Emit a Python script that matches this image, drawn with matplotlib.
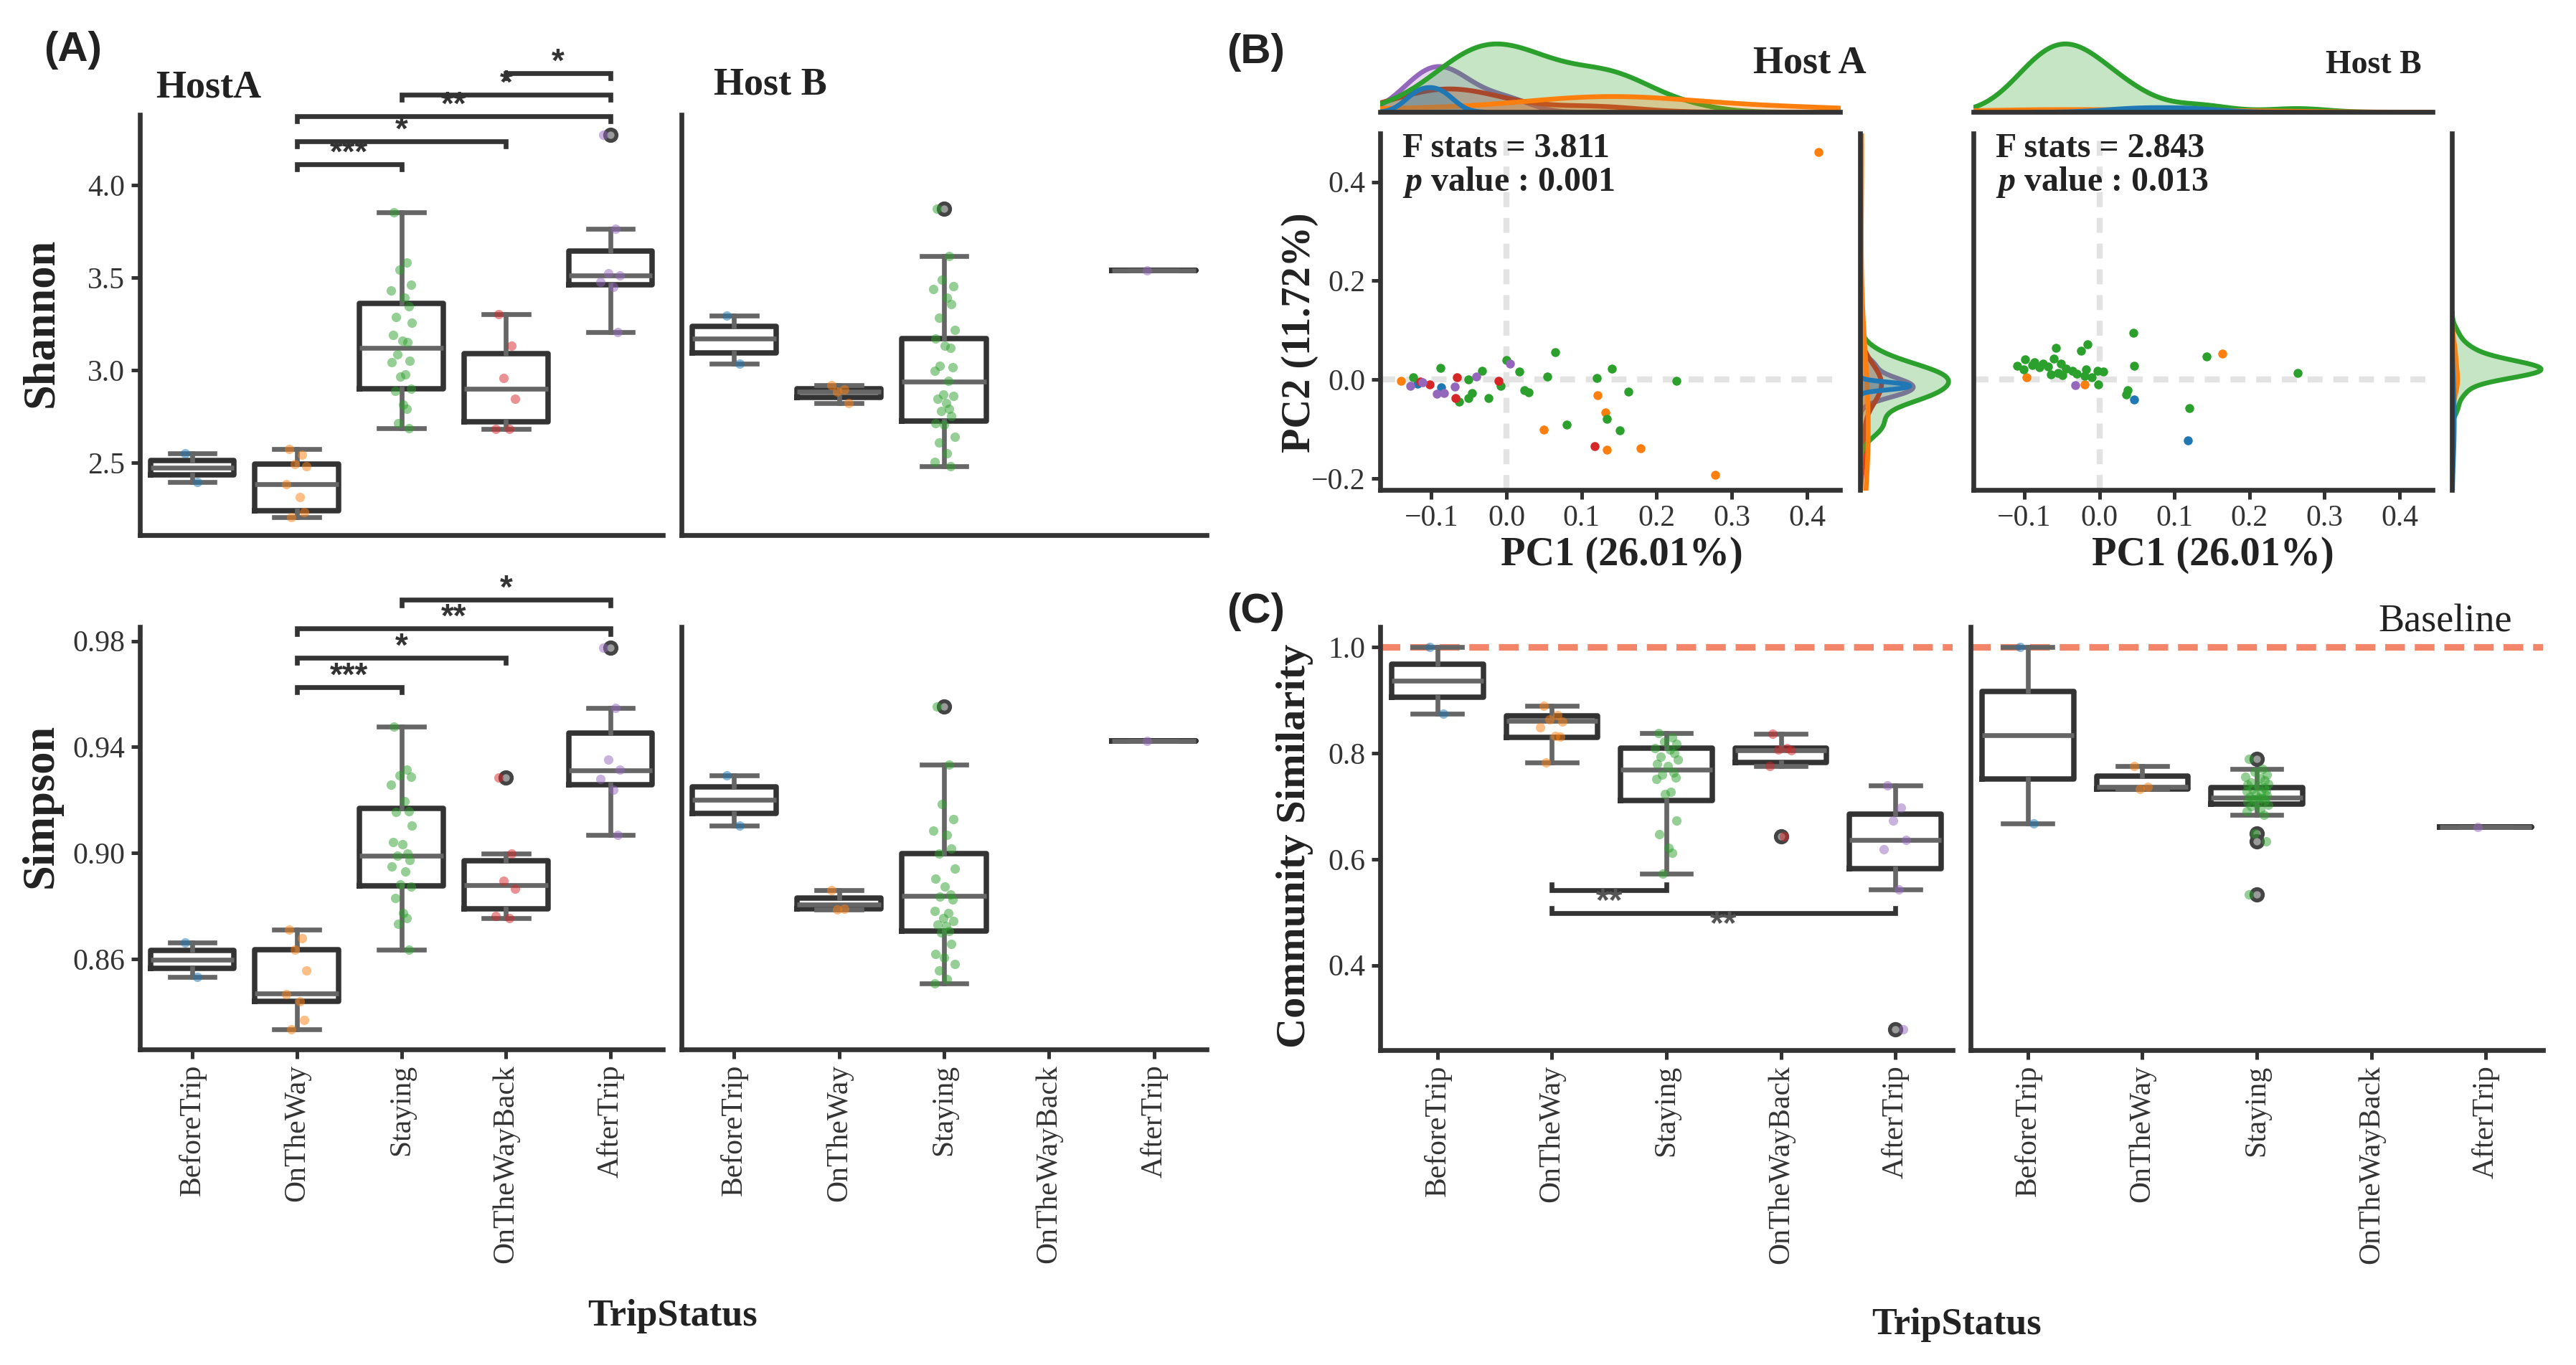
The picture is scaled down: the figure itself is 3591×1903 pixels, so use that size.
import numpy as np
import pandas as pd
import matplotlib
matplotlib.use('Agg')
import matplotlib.pyplot as plt
import seaborn as sns
import warnings

warnings.filterwarnings('ignore')

plt.rcParams['font.family'] = ['Liberation Serif', 'DejaVu Serif']
plt.rcParams['mathtext.fontset'] = 'custom'
plt.rcParams['mathtext.it'] = 'Liberation Serif:italic:bold'
plt.rcParams['mathtext.rm'] = 'Liberation Serif:bold'

W, H = 3591, 1903
cats = ['BeforeTrip', 'OnTheWay', 'Staying', 'OnTheWayBack', 'AfterTrip']
colors = ['#1f77b4', '#ff7f0e', '#2ca02c', '#d62728', '#9467bd']

# ---------------- (A) Shannon ----------------
shannon_hostA_pts = [
    [2.551, 2.397],
    [2.575, 2.542, 2.494, 2.480, 2.384, 2.316, 2.233, 2.205],
    [3.852, 3.583, 3.541, 3.462, 3.429, 3.390, 3.346, 3.288, 3.255, 3.192, 3.159, 3.153,
     3.086, 3.049, 3.043, 2.979, 2.966, 2.899, 2.889, 2.816, 2.793, 2.715, 2.686],
    [3.303, 3.134, 2.957, 2.845, 2.681, 2.684],
    [4.271, 3.762, 3.525, 3.510, 3.477, 3.448, 3.207],
]
shannon_hostA_box = [(2.436, 2.474, 2.513), (2.240, 2.386, 2.494), (2.900, 3.120, 3.360),
                     (2.720, 2.900, 3.090), (3.460, 3.510, 3.645)]
shannon_hostB_pts = [
    [3.296, 3.037],
    [2.918, 2.895, 2.883, 2.821],
    [3.872, 3.616, 3.490, 3.452, 3.438, 3.390, 3.355, 3.284, 3.217, 3.169, 3.134, 3.120,
     3.024, 3.014, 2.995, 2.941, 2.870, 2.860, 2.845, 2.821, 2.793, 2.779, 2.754, 2.715,
     2.706, 2.638, 2.609, 2.552, 2.503, 2.482],
    [],
    [3.54],
]
shannon_hostB_box = [(3.095, 3.170, 3.235), (2.855, 2.885, 2.900), (2.725, 2.940, 3.170),
                     None, (3.54, 3.54, 3.54)]
shannon_sig = [(1, 2, 4.112, '***'), (1, 3, 4.236, '*'), (1, 4, 4.372, '**'),
               (2, 4, 4.488, '*'), (3, 4, 4.605, '*')]

# ---------------- (A) Simpson ----------------
simpson_hostA_pts = [
    [0.8662, 0.8533],
    [0.8712, 0.8679, 0.8635, 0.8558, 0.8468, 0.8440, 0.8371, 0.8335],
    [0.9476, 0.9315, 0.9294, 0.9287, 0.9259, 0.9197, 0.9158, 0.9156, 0.9104, 0.9042, 0.9034,
     0.8997, 0.8989, 0.8973, 0.8949, 0.8930, 0.8883, 0.8874, 0.8831, 0.8775, 0.8756, 0.8734,
     0.8637],
    [0.9286, 0.8997, 0.8895, 0.8865, 0.8762, 0.8756],
    [0.9774, 0.9548, 0.9352, 0.9315, 0.9280, 0.9238, 0.9069],
]
simpson_hostA_box = [(0.8566, 0.8598, 0.8633), (0.8440, 0.8470, 0.8636), (0.8876, 0.8990, 0.9168),
                     (0.8790, 0.8880, 0.8972), (0.9258, 0.9312, 0.9452)]
simpson_hostB_pts = [
    [0.9293, 0.9104],
    [0.8860, 0.8791, 0.8787],
    [0.9554, 0.9333, 0.9184, 0.9129, 0.9085, 0.9069, 0.9017, 0.8998, 0.8942, 0.8905, 0.8874,
     0.8843, 0.8837, 0.8824, 0.8781, 0.8775, 0.8756, 0.8744, 0.8731, 0.8725, 0.8706, 0.8700,
     0.8657, 0.8620, 0.8607, 0.8582, 0.8558, 0.8526, 0.8510],
    [],
    [0.9424],
]
simpson_hostB_box = [(0.9150, 0.9200, 0.9249), (0.8791, 0.8806, 0.8831), (0.8706, 0.8840, 0.8998),
                     None, (0.9424, 0.9424, 0.9424)]
simpson_sig = [(1, 2, 0.9626, '***'), (1, 3, 0.9738, '*'), (1, 4, 0.9847, '**'), (2, 4, 0.9955, '*')]

# ---------------- (B) PCoA ----------------
pc1_hostA = [-0.118, -0.087,
             0.415, -0.140, 0.121, 0.050, 0.134, 0.179, 0.278, 0.132,
             -0.088, -0.124, -0.032, -0.051, -0.046, -0.051, -0.024, 0.017, 0.030, 0.024, 0.054,
             0.065, 0.120, 0.140, 0.162, 0.226, 0.080, 0.134, 0.151, -0.063, 0.000, -0.008,
             -0.102, -0.066, -0.068, -0.010, 0.117, -0.115,
             -0.128, -0.112, -0.093, -0.083, -0.069, -0.040, 0.005]
pc2_hostA = [-0.008, -0.016,
             0.461, -0.002, -0.031, -0.101, -0.142, -0.139, -0.192, -0.067,
             0.023, 0.005, 0.018, 0.000, -0.027, -0.038, -0.038, 0.017, -0.025, -0.021, 0.006,
             0.056, 0.004, 0.022, -0.024, -0.002, -0.091, -0.080, -0.103, -0.044, 0.039, -0.012,
             -0.010, 0.005, -0.038, -0.002, -0.135, -0.004,
             -0.012, -0.006, -0.029, -0.027, -0.014, 0.006, 0.032]
grp_hostA = ['BeforeTrip'] * 2 + ['OnTheWay'] * 8 + ['Staying'] * 22 + ['OnTheWayBack'] * 6 + ['AfterTrip'] * 7

pc1_hostB = [0.046, 0.118,
             0.164, -0.097, -0.020,
             0.045, 0.046, 0.143, 0.264, 0.120, 0.036, 0.038, -0.002, -0.003, 0.005, -0.018,
             -0.020, -0.036, -0.016, -0.025, -0.058, -0.061, -0.051, -0.069, -0.055, -0.049,
             -0.087, -0.099, -0.110, -0.101, -0.075, -0.080, -0.065, -0.045, -0.030, -0.090, -0.010,
             -0.032]
pc2_hostB = [-0.040, -0.123,
             0.053, 0.005, -0.010,
             0.094, 0.028, 0.047, 0.014, -0.057, -0.030, -0.021, -0.010, 0.018, 0.017, 0.020,
             0.007, 0.018, 0.071, 0.058, 0.064, 0.043, 0.033, 0.026, 0.014, 0.009,
             0.035, 0.041, 0.028, 0.020, 0.033, 0.025, 0.010, 0.022, 0.012, 0.030, 0.005,
             -0.011]
grp_hostB = ['BeforeTrip'] * 2 + ['OnTheWay'] * 3 + ['Staying'] * 32 + ['AfterTrip'] * 1

# ---------------- (C) Community similarity ----------------
sim_hostA_pts = [
    [1.000, 0.874],
    [0.889, 0.872, 0.863, 0.859, 0.848, 0.833, 0.831, 0.782],
    [0.8377, 0.8299, 0.821, 0.8178, 0.8088, 0.807, 0.800, 0.7937, 0.7877, 0.780, 0.7757,
     0.7635, 0.759, 0.7545, 0.7515, 0.7274, 0.7226, 0.6731, 0.6477, 0.6218, 0.6115, 0.5723],
    [0.836, 0.8088, 0.807, 0.805, 0.7757, 0.643],
    [0.7395, 0.6972, 0.6731, 0.6357, 0.6188, 0.5434, 0.2797],
]
sim_hostA_box = [(0.9053, 0.9366, 0.9674), (0.8299, 0.8612, 0.8703), (0.7105, 0.7684, 0.8088),
                 (0.783, 0.806, 0.809), (0.5826, 0.6369, 0.6852)]
sim_hostB_pts = [
    [1.000, 0.668],
    [0.775, 0.736, 0.732],
    [0.789, 0.770, 0.765, 0.760, 0.755, 0.752, 0.748, 0.745, 0.742, 0.740, 0.738, 0.735,
     0.733, 0.730, 0.728, 0.725, 0.722, 0.720, 0.718, 0.716, 0.715, 0.713, 0.710, 0.708,
     0.705, 0.703, 0.700, 0.695, 0.690, 0.684, 0.649, 0.634, 0.534],
    [],
    [0.661],
]
sim_hostB_box = [(0.7515, 0.834, 0.9168), (0.732, 0.7358, 0.7564), (0.7033, 0.7165, 0.7346),
                 None, (0.661, 0.661, 0.661)]
sim_sig = [(1, 2, 0.542, '**'), (1, 4, 0.498, '**')]
baseline = 1.0

# ------------------------------------------------------------------
jit = [-0.07, 0.05, -0.02, 0.09, -0.10, 0.03, 0.07, -0.05, 0.10, -0.08, 0.01, 0.06,
       -0.04, 0.08, -0.09, 0.04, -0.01, 0.09, -0.06, 0.02, 0.05, -0.03, 0.07, -0.08,
       0.00, 0.10, -0.05, 0.03, -0.09, 0.06, -0.02, 0.08, -0.07, 0.04, -0.10, 0.01]

fig = plt.figure(figsize=(W / 300, H / 300), dpi=300)


def rect(x0, y0, x1, y1):
    return [x0 / W, 1 - y1 / H, (x1 - x0) / W, (y1 - y0) / H]


def ftext(x, y, s, **kw):
    fig.text(x / W, 1 - y / H, s, **kw)


def style(ax):
    for s in ['top', 'right']:
        ax.spines[s].set_visible(False)
    for s in ['left', 'bottom']:
        ax.spines[s].set_linewidth(1.6)
        ax.spines[s].set_color('#333333')
    ax.tick_params(length=3.0, width=1.2, color='#333333', labelcolor='#333333',
                   labelsize=10, pad=2)


def box_panel(ax, pts, box, ylim, yticks=None, xlabels=False):
    stats, pos = [], []
    for i, (p, b) in enumerate(zip(pts, box)):
        if not p:
            continue
        q1, med, q3 = b
        iqr = q3 - q1
        arr = np.array(p)
        inside = arr[(arr >= q1 - 1.5 * iqr - 1e-9) & (arr <= q3 + 1.5 * iqr + 1e-9)]
        fl = arr[(arr < inside.min()) | (arr > inside.max())]
        stats.append(dict(med=med, q1=q1, q3=q3, whislo=inside.min(), whishi=inside.max(), fliers=fl))
        pos.append(i)
    ax.bxp(stats, positions=pos, widths=0.8, capwidths=0.43, manage_ticks=False,
           boxprops=dict(color='#333333', linewidth=1.8),
           medianprops=dict(color='#666666', linewidth=1.6),
           whiskerprops=dict(color='#666666', linewidth=1.6),
           capprops=dict(color='#666666', linewidth=1.6),
           flierprops=dict(marker='o', markersize=3.8, markerfacecolor='#9a9a9a',
                           markeredgecolor='#444444', markeredgewidth=1.3))
    for i, p in enumerate(pts):
        if p:
            ax.scatter(i + np.array(jit[:len(p)]), p, s=10, color=colors[i], alpha=0.5,
                       linewidths=0, zorder=4)
    ax.set_xlim(-0.5, 4.5)
    ax.set_ylim(*ylim)
    style(ax)
    if yticks is None:
        ax.set_yticks([])
    else:
        ax.set_yticks(yticks)
    if xlabels:
        ax.set_xticks(range(5))
        ax.set_xticklabels(cats, rotation=90, ha='center', va='top')
    else:
        ax.set_xticks([])


def brackets(ax, sig, tip, up=False, color='#333333', weight='bold', size=11):
    for i, j, y, lab in sig:
        t = y + tip if up else y - tip
        ax.plot([i, i, j, j], [t, y, y, t], color='#333333', lw=1.6, clip_on=False,
                solid_joinstyle='miter')
        off = -4.0 if up else 3.4
        ax.annotate(lab, xy=((i + j) / 2, y), xytext=(0, off), textcoords='offset points',
                    ha='center', va='center', fontsize=size, color=color,
                    family='Liberation Sans', fontweight=weight, annotation_clip=False)


# ---------------- panel A ----------------
axA1 = fig.add_axes(rect(195, 160, 924, 746))
box_panel(axA1, shannon_hostA_pts, shannon_hostA_box, (2.109, 4.38), yticks=[2.5, 3.0, 3.5, 4.0])
brackets(axA1, shannon_sig, 0.028)
axA2 = fig.add_axes(rect(950, 160, 1682, 746))
box_panel(axA2, shannon_hostB_pts, shannon_hostB_box, (2.109, 4.38))
axA3 = fig.add_axes(rect(195, 874, 924, 1463))
box_panel(axA3, simpson_hostA_pts, simpson_hostA_box, (0.826, 0.9853),
          yticks=[0.86, 0.90, 0.94, 0.98], xlabels=True)
brackets(axA3, simpson_sig, 0.002)
axA4 = fig.add_axes(rect(950, 874, 1682, 1463))
box_panel(axA4, simpson_hostB_pts, simpson_hostB_box, (0.826, 0.9853), xlabels=True)

ftext(61, 70, '(A)', family='Liberation Sans', fontweight='bold', fontsize=14, va='center', color='#222222')
ftext(217, 122, 'HostA', fontweight='bold', fontsize=13, va='center', color='#222222')
ftext(995, 119, 'Host B', fontweight='bold', fontsize=13, va='center', color='#222222')
ftext(58, 450, 'Shannon', fontweight='bold', fontsize=15, rotation=90, ha='center', va='center', color='#222222')
ftext(58, 1123, 'Simpson', fontweight='bold', fontsize=15, rotation=90, ha='center', va='center', color='#222222')
ftext(937, 1835, 'TripStatus', fontweight='bold', fontsize=12.5, ha='center', va='center', color='#222222')


# ---------------- panel B ----------------
def pca_panel(r_main, r_top, r_right, pc1, pc2, grp, show_y):
    ax = fig.add_axes(rect(*r_main))
    axT = fig.add_axes(rect(*r_top))
    axR = fig.add_axes(rect(*r_right))
    df = pd.DataFrame({'PC1': pc1, 'PC2': pc2, 'TripStatus': grp})
    ax.axvline(0, color='#e3e3e3', lw=2.0, ls=(0, (2.5, 1.8)), zorder=0)
    ax.axhline(0, color='#e3e3e3', lw=2.0, ls=(0, (2.5, 1.8)), zorder=0)
    for i, c in enumerate(cats):
        sub = df[df['TripStatus'] == c]
        ax.scatter(sub['PC1'], sub['PC2'], s=9, color=colors[i], linewidths=0, zorder=3)
    ax.set_xlim(-0.168, 0.444)
    ax.set_ylim(-0.223, 0.498)
    style(ax)
    ax.set_xticks([-0.1, 0.0, 0.1, 0.2, 0.3, 0.4])
    if show_y:
        ax.set_yticks([-0.2, 0.0, 0.2, 0.4])
    else:
        ax.set_yticks([])

    counts = df['TripStatus'].value_counts()
    keep = [c for c in cats if counts.get(c, 0) >= 2]
    dk = df[df['TripStatus'].isin(keep)]
    pal = {c: colors[cats.index(c)] for c in keep}
    sns.kdeplot(data=dk, x='PC1', hue='TripStatus', hue_order=keep, palette=pal, fill=True,
                alpha=0.27, linewidth=1.6, common_norm=True, legend=False, ax=axT)
    sns.kdeplot(data=dk, y='PC2', hue='TripStatus', hue_order=keep, palette=pal, fill=True,
                alpha=0.27, linewidth=1.6, common_norm=True, legend=False, ax=axR)
    axT.set_xlim(-0.168, 0.444)
    axT.set_ylim(bottom=0)
    axR.set_ylim(-0.223, 0.498)
    axR.set_xlim(left=0)
    for a, keep_sp in ((axT, 'bottom'), (axR, 'left')):
        for s in a.spines:
            a.spines[s].set_visible(s == keep_sp)
        a.spines[keep_sp].set_linewidth(1.6)
        a.spines[keep_sp].set_color('#333333')
        a.set_xticks([])
        a.set_yticks([])
        a.set_xlabel('')
        a.set_ylabel('')
        a.patch.set_alpha(0)
    return ax


pca_panel((1924, 186, 2565, 683), (1924, 56, 2565, 156), (2593, 186, 2722, 683),
          pc1_hostA, pc2_hostA, grp_hostA, True)
pca_panel((2751, 186, 3391, 683), (2751, 56, 3391, 156), (3418, 186, 3548, 683),
          pc1_hostB, pc2_hostB, grp_hostB, False)

ftext(1710, 73, '(B)', family='Liberation Sans', fontweight='bold', fontsize=14, va='center', color='#222222')
ftext(2602, 89, 'Host A', fontweight='bold', fontsize=13, ha='right', va='center', color='#222222')
ftext(3376, 91, 'Host B', fontweight='bold', fontsize=11, ha='right', va='center', color='#222222')
ftext(1955, 207, 'F stats = 3.811', fontweight='bold', fontsize=11.5, va='center', color='#222222')
ftext(1955, 254, r'$p$ value : 0.001', fontweight='bold', fontsize=11.5, va='center', color='#222222')
ftext(2782, 207, 'F stats = 2.843', fontweight='bold', fontsize=11.5, va='center', color='#222222')
ftext(2782, 254, r'$p$ value : 0.013', fontweight='bold', fontsize=11.5, va='center', color='#222222')
ftext(2261, 774, 'PC1 (26.01%)', fontweight='bold', fontsize=13.5, ha='center', va='center', color='#222222')
ftext(3085, 774, 'PC1 (26.01%)', fontweight='bold', fontsize=13.5, ha='center', va='center', color='#222222')
ftext(1812, 464, 'PC2 (11.72%)', fontweight='bold', fontsize=13.5, rotation=90, ha='center', va='center', color='#222222')

# ---------------- panel C ----------------
axC1 = fig.add_axes(rect(1924, 874, 2722, 1464))
box_panel(axC1, sim_hostA_pts, sim_hostA_box, (0.240, 1.038), yticks=[0.4, 0.6, 0.8, 1.0], xlabels=True)
axC1.axhline(baseline, color='#f3866a', lw=2.2, ls=(0, (3.0, 1.5)), zorder=1)
brackets(axC1, sim_sig, 0.01, up=True, color='#555555', weight='bold', size=11.5)
axC2 = fig.add_axes(rect(2747, 874, 3545, 1464))
box_panel(axC2, sim_hostB_pts, sim_hostB_box, (0.240, 1.038), xlabels=True)
axC2.axhline(baseline, color='#f3866a', lw=2.2, ls=(0, (3.0, 1.5)), zorder=1)

ftext(1710, 853, '(C)', family='Liberation Sans', fontweight='bold', fontsize=14, va='center', color='#222222')
ftext(3502, 867, 'Baseline', fontsize=13, ha='right', va='center', color='#222222')
ftext(1805, 1179, 'Community Similarity', fontweight='bold', fontsize=14, rotation=90,
      ha='center', va='center', color='#222222')
ftext(2728, 1847, 'TripStatus', fontweight='bold', fontsize=12.5, ha='center', va='center', color='#222222')

fig.savefig('out.png', dpi=300, facecolor='white')
